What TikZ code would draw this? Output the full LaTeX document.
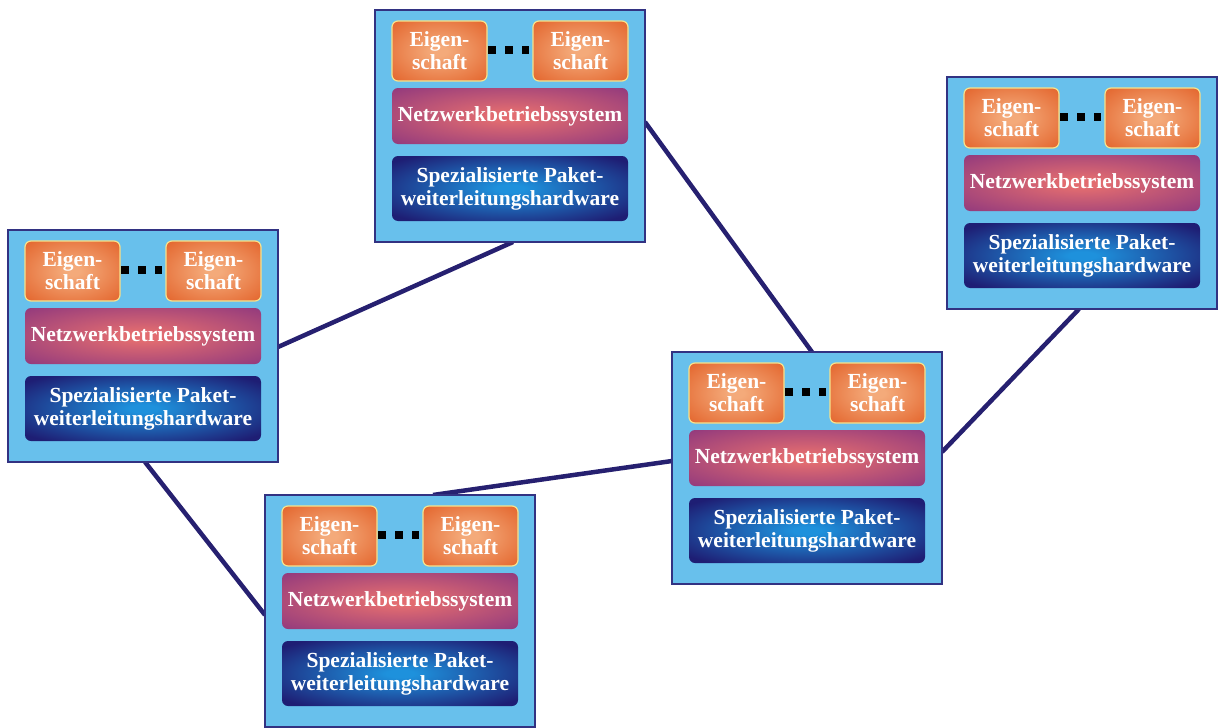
\documentclass[tikz,border=0pt]{standalone}
\usepackage{fontspec}
\setmainfont{Liberation Serif}
\usetikzlibrary{calc,backgrounds}
\definecolor{boxfill}{RGB}{104,192,236}
\definecolor{boxline}{RGB}{50,50,130}
\definecolor{eigouter}{RGB}{228,104,48}
\definecolor{eiginner}{RGB}{244,170,122}
\definecolor{eigline}{RGB}{246,226,140}
\definecolor{netouter}{RGB}{140,54,126}
\definecolor{netinner}{RGB}{226,108,112}
\definecolor{hwouter}{RGB}{30,30,116}
\definecolor{hwinner}{RGB}{30,145,220}
\definecolor{linkcol}{RGB}{38,32,112}
\pgfdeclareradialshading{eigshade}{\pgfpoint{0bp}{0bp}}{color(0bp)=(eiginner); color(4bp)=(eiginner); color(34bp)=(eigouter); color(50bp)=(eigouter)}
\pgfdeclareradialshading{netshade}{\pgfpoint{0bp}{0bp}}{color(0bp)=(netinner); color(4bp)=(netinner); color(38bp)=(netouter); color(50bp)=(netouter)}
\pgfdeclareradialshading{hwshade}{\pgfpoint{0bp}{0bp}}{color(0bp)=(hwinner); color(3bp)=(hwinner); color(32bp)=(hwouter); color(50bp)=(hwouter)}
\tikzset{
  routerbox/.style={draw=boxline, line width=1.6pt, fill=boxfill, minimum width=270pt, minimum height=232pt, inner sep=0pt, outer sep=0pt},
  inner/.style={rounded corners=6pt, inner sep=0pt, outer sep=0pt, align=center, text=white,
     font=\bfseries\fontsize{21.5}{23}\selectfont},
  eig/.style={inner, draw=eigline, line width=1.2pt, shading=eigshade, minimum width=95pt, minimum height=60pt},
  netz/.style={inner, shading=netshade, minimum width=236pt, minimum height=56pt},
  hw/.style={inner, shading=hwshade, minimum width=236pt, minimum height=65pt},
  dots/.style={line width=8pt, dash pattern=on 8pt off 9pt, shorten <=1pt, shorten >=4pt},
  link/.style={draw=linkcol, line width=4.5pt}
}
\newcommand\router[3]{%
  \node[routerbox, anchor=north west] (#1) at (#2,#3) {};
  \node[eig] (#1e1) at ($(#1.north west)+(64.5,41)$) {Eigen-\\schaft};
  \node[eig] (#1e2) at ($(#1.north west)+(205.5,41)$) {Eigen-\\schaft};
  \draw[dots] ([yshift=1.5pt]#1e1.east) -- ([yshift=1.5pt]#1e2.west);
  \node[netz] (#1n) at ($(#1.north west)+(135,106)$) {Netzwerkbetriebssystem};
  \node[hw] (#1h) at ($(#1.north west)+(135,178.5)$) {Spezialisierte Paket-\\weiterleitungshardware};
}
\begin{document}
\begin{tikzpicture}[x=1pt,y=-1pt]
\useasboundingbox (0,0) rectangle (1218,728);
\router{ra}{375}{10}
\router{rb}{8}{230}
\router{rc}{672}{352}
\router{rd}{947}{77}
\router{re}{265}{495}
\begin{scope}[on background layer]
  \draw[link] ([yshift=-1pt]rb.east) -- ([xshift=3pt]ra.south);
  \draw[link] ([yshift=4pt]ra.east) -- ([xshift=5pt]rc.north);
  \draw[link] ([xshift=2pt]rb.south) -- ([yshift=-4pt]re.west);
  \draw[link] ([xshift=33pt]re.north) -- ([yshift=7pt]rc.west);
  \draw[link] ([yshift=16pt]rc.east) -- ([xshift=-3pt]rd.south);
\end{scope}
\end{tikzpicture}
\end{document}
